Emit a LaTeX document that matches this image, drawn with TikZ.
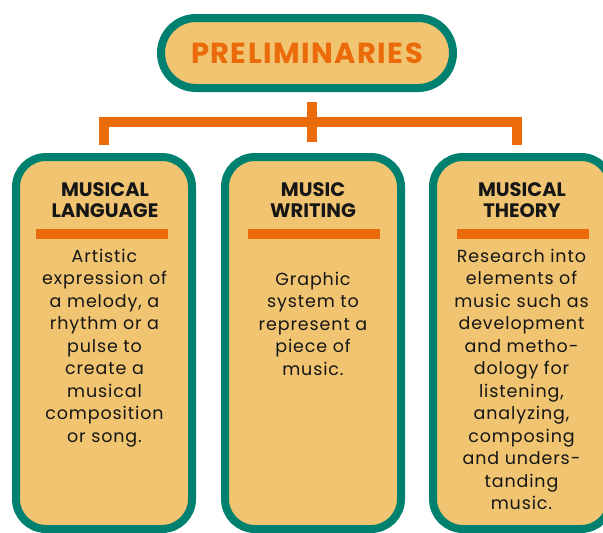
\documentclass[tikz,border=0pt]{standalone}
\usepackage{fontspec}
\setmainfont{Poppins}
\definecolor{tealc}{HTML}{00806F}
\definecolor{sand}{HTML}{F0C470}
\definecolor{orng}{HTML}{EB6A0A}
\definecolor{ink}{HTML}{161616}
\begin{document}
\begin{tikzpicture}[x=1pt,y=-1pt,
  pill/.style={draw=tealc, fill=sand, line width=8pt, rounded corners=35pt,
    minimum width=292pt, minimum height=70pt, inner sep=0pt,
    text=orng, font=\bfseries\fontsize{29}{32}\selectfont\addfontfeatures{LetterSpace=5}},
  card/.style={draw=tealc, fill=sand, line width=8pt, rounded corners=30pt,
    minimum height=372pt, inner sep=0pt},
  head/.style={font=\bfseries\fontsize{19.5}{21}\selectfont, align=center,
    anchor=base, inner sep=0pt, text=ink},
  body/.style={font=\fontsize{17.5}{22.5}\selectfont\addfontfeatures{LetterSpace=5}, align=center,
    anchor=base, inner sep=0pt, text=ink},
  bar/.style={fill=orng, minimum width=132pt, minimum height=10pt, inner sep=0pt},
  link/.style={draw=orng, line width=10.5pt}]
\useasboundingbox (0,0) rectangle (603,533);
% title
\node[pill] (top) at (307,53) {PRELIMINARIES};
% connectors
\coordinate (s1) at (312,102);
\coordinate (s2) at (312,142);
\coordinate (l0) at (104,145);
\coordinate (l1) at (104,122);
\coordinate (r1) at (517,122);
\coordinate (r0) at (517,145);
\draw[link] (s1) -- (s2);
\draw[link] (l0) -- (l1) -- (r1) -- (r0);
% cards
\node[card, minimum width=176pt] (c1) at (104,343) {};
\node[card, minimum width=176pt] (c2) at (313,343) {};
\node[card, minimum width=178pt] (c3) at (522,343) {};
% headings (base = last line)
\node[head] (h1) at (105,217) {MUSICAL\\LANGUAGE};
\node[head] (h2) at (313,217) {MUSIC\\WRITING};
\node[head] (h3) at (522,217) {MUSICAL\\THEORY};
% bars
\node[bar] (b1) at (102,234) {};
\node[bar] (b2) at (314,234) {};
\node[bar] (b3) at (523,234) {};
% bodies (base = last line)
\node[body] (t1) at (104.5,442) {Artistic\\expression of\\a melody, a\\rhythm or a\\pulse to\\create a\\musical\\composition\\or song.};
\node[body] (t2) at (313,375) {Graphic\\system to\\represent a\\piece of\\music.};
\node[body] (t3) at (521.5,509.5) {Research into\\elements of\\music such as\\development\\and metho-\\dology for\\listening,\\analyzing,\\composing\\and unders-\\tanding\\music.};
\end{tikzpicture}
\end{document}
